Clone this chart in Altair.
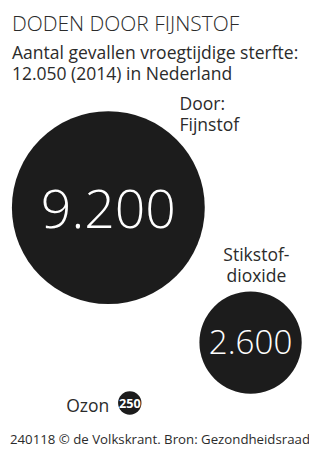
import altair as alt
import pandas as pd

# ---- data ----
categories = ["Fijnstof", "Stikstofdioxide", "Ozon"]
deaths = [9200, 2600, 250]
value_labels = ["9.200", "2.600", "250"]
category_labels = ["Door:\nFijnstof", "Stikstof-\ndioxide", "Ozon"]
title_text = "DODEN DOOR FIJNSTOF"
subtitle_text = "Aantal gevallen vroegtijdige sterfte:\n12.050 (2014) in Nederland"
footer_text = "240118 \u00a9 de Volkskrant. Bron: Gezondheidsraad"

# ---- layout (pixel positions of the infographic, not data) ----
W, H = 309, 447
circle_cx = [103, 249, 125]
circle_cy = [199, 337.5, 399.5]
value_baseline = [220, 349, 404.5]
value_font = [55, 34, 13]
value_weight = [300, 300, 700]
label_x = [176, 255, 104]
label_y = [99, 254, 409]
label_align = ["left", "center", "right"]

FONT = "Open Sans"
TXT = "#2b2b2b"
INK = "#1c1c1c"

circles = pd.DataFrame({"categorie": categories, "doden": deaths,
                        "cx": circle_cx, "cy": circle_cy})

bubble = alt.Chart(circles).mark_circle(color=INK, opacity=1).encode(
    x=alt.X("cx:Q", scale=None, axis=None),
    y=alt.Y("cy:Q", scale=None, axis=None),
    size=alt.Size("doden:Q",
                  scale=alt.Scale(domain=[250, 2600, 9200], range=[576, 11025, 39204]),
                  legend=None),
)

layers = [bubble]

for i in range(3):
    d = pd.DataFrame({"t": [value_labels[i]], "x": [circle_cx[i]], "y": [value_baseline[i]]})
    layers.append(alt.Chart(d).mark_text(
        font=FONT, fontSize=value_font[i], fontWeight=value_weight[i], color="white",
        align="center", baseline="alphabetic").encode(
        x=alt.X("x:Q", scale=None), y=alt.Y("y:Q", scale=None), text="t:N"))
    d2 = pd.DataFrame({"t": [category_labels[i]], "x": [label_x[i]], "y": [label_y[i]]})
    layers.append(alt.Chart(d2).mark_text(
        font=FONT, fontSize=18, color=TXT, align=label_align[i], baseline="alphabetic",
        lineBreak="\n", lineHeight=21.6).encode(
        x=alt.X("x:Q", scale=None), y=alt.Y("y:Q", scale=None), text="t:N"))

tdf = pd.DataFrame({"t": [title_text], "x": [4], "y": [18]})
layers.append(alt.Chart(tdf).mark_text(
    font=FONT, fontSize=21.5, fontWeight=300, color=TXT, align="left", baseline="alphabetic").encode(
    x=alt.X("x:Q", scale=None), y=alt.Y("y:Q", scale=None), text="t:N"))

sdf = pd.DataFrame({"t": [subtitle_text], "x": [4], "y": [46]})
layers.append(alt.Chart(sdf).mark_text(
    font=FONT, fontSize=18, color=TXT, align="left", baseline="alphabetic",
    lineBreak="\n", lineHeight=21.6).encode(
    x=alt.X("x:Q", scale=None), y=alt.Y("y:Q", scale=None), text="t:N"))

fdf = pd.DataFrame({"t": [footer_text], "x": [156], "y": [442]})
layers.append(alt.Chart(fdf).mark_text(
    font=FONT, fontSize=13.6, color=TXT, align="center", baseline="alphabetic").encode(
    x=alt.X("x:Q", scale=None), y=alt.Y("y:Q", scale=None), text="t:N"))

chart = alt.layer(*layers).properties(
    width=W, height=H, padding=0, autosize=alt.AutoSizeParams(type="none"),
    background="white",
).configure_view(stroke=None)

chart.save("out.html", embed_options={"renderer": "svg", "actions": False})
